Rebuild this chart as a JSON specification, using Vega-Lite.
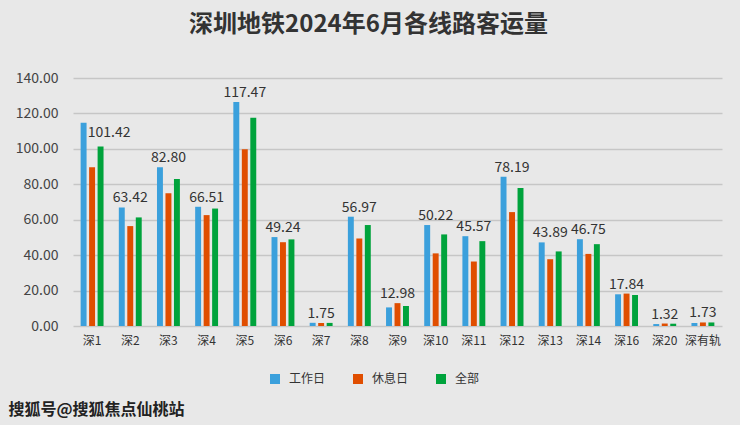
{
  "$schema": "https://vega.github.io/schema/vega-lite/v6.json",
  "width": 649,
  "height": 248,
  "autosize": {"type": "none"},
  "padding": {"left": 73, "top": 78, "right": 18, "bottom": 99},
  "background": "#e8e8e8",
  "view": {"stroke": null},
  "config": {
    "font": "Noto Sans CJK SC",
    "text": {"font": "Noto Sans CJK SC"}
  },
  "title": {
    "text": "深圳地铁2024年6月各线路客运量",
    "fontSize": 24,
    "fontWeight": "bold",
    "color": "#333333",
    "anchor": "middle",
    "dx": -29,
    "offset": 34
  },
  "data": {
    "values": [
      {"line": "深1", "type": "工作日", "value": 114.8},
      {"line": "深1", "type": "休息日", "value": 89.6},
      {"line": "深1", "type": "全部", "value": 101.4, "label": "101.42"},
      {"line": "深2", "type": "工作日", "value": 66.9},
      {"line": "深2", "type": "休息日", "value": 56.4},
      {"line": "深2", "type": "全部", "value": 61.3, "label": "63.42"},
      {"line": "深3", "type": "工作日", "value": 89.6},
      {"line": "深3", "type": "休息日", "value": 74.9},
      {"line": "深3", "type": "全部", "value": 83.0, "label": "82.80"},
      {"line": "深4", "type": "工作日", "value": 67.3},
      {"line": "深4", "type": "休息日", "value": 62.6},
      {"line": "深4", "type": "全部", "value": 66.3, "label": "66.51"},
      {"line": "深5", "type": "工作日", "value": 126.4},
      {"line": "深5", "type": "休息日", "value": 99.8},
      {"line": "深5", "type": "全部", "value": 117.5, "label": "117.47"},
      {"line": "深6", "type": "工作日", "value": 50.2},
      {"line": "深6", "type": "休息日", "value": 47.3},
      {"line": "深6", "type": "全部", "value": 48.9, "label": "49.24"},
      {"line": "深7", "type": "工作日", "value": 1.8},
      {"line": "深7", "type": "休息日", "value": 1.7},
      {"line": "深7", "type": "全部", "value": 1.75, "label": "1.75"},
      {"line": "深8", "type": "工作日", "value": 61.7},
      {"line": "深8", "type": "休息日", "value": 49.4},
      {"line": "深8", "type": "全部", "value": 57.0, "label": "56.97"},
      {"line": "深9", "type": "工作日", "value": 10.5},
      {"line": "深9", "type": "休息日", "value": 12.9},
      {"line": "深9", "type": "全部", "value": 11.3, "label": "12.98"},
      {"line": "深10", "type": "工作日", "value": 57.0},
      {"line": "深10", "type": "休息日", "value": 41.0},
      {"line": "深10", "type": "全部", "value": 51.7, "label": "50.22"},
      {"line": "深11", "type": "工作日", "value": 50.7},
      {"line": "深11", "type": "休息日", "value": 36.4},
      {"line": "深11", "type": "全部", "value": 47.9, "label": "45.57"},
      {"line": "深12", "type": "工作日", "value": 84.3},
      {"line": "深12", "type": "休息日", "value": 64.3},
      {"line": "深12", "type": "全部", "value": 77.9, "label": "78.19"},
      {"line": "深13", "type": "工作日", "value": 47.2},
      {"line": "深13", "type": "休息日", "value": 37.7},
      {"line": "深13", "type": "全部", "value": 42.1, "label": "43.89"},
      {"line": "深14", "type": "工作日", "value": 49.0},
      {"line": "深14", "type": "休息日", "value": 40.7},
      {"line": "深14", "type": "全部", "value": 46.2, "label": "46.75"},
      {"line": "深16", "type": "工作日", "value": 17.9},
      {"line": "深16", "type": "休息日", "value": 18.3},
      {"line": "深16", "type": "全部", "value": 17.5, "label": "17.84"},
      {"line": "深20", "type": "工作日", "value": 1.1},
      {"line": "深20", "type": "休息日", "value": 1.4},
      {"line": "深20", "type": "全部", "value": 1.3, "label": "1.32"},
      {"line": "深有轨", "type": "工作日", "value": 1.7},
      {"line": "深有轨", "type": "休息日", "value": 2.0},
      {"line": "深有轨", "type": "全部", "value": 2.0, "label": "1.73"}
    ]
  },
  "encoding": {
    "x": {
      "field": "line",
      "type": "nominal",
      "sort": null,
      "scale": {"paddingInner": 0.4, "paddingOuter": 0.2},
      "axis": {
        "title": "搜狐号@搜狐焦点仙桃站",
        "titleX": -65,
        "titleY": 83,
        "titleAlign": "left",
        "titleBaseline": "middle",
        "titleAnchor": null,
        "titleFontSize": 16,
        "titleFontWeight": "bold",
        "titleColor": "#222222",
        "labelAngle": 0,
        "labelFontSize": 12,
        "labelColor": "#333333",
        "labelPadding": 9,
        "ticks": false,
        "domain": false
      }
    },
    "y": {
      "field": "value",
      "type": "quantitative",
      "scale": {"domain": [0, 140], "nice": false},
      "axis": {
        "title": null,
        "values": [0, 20, 40, 60, 80, 100, 120, 140],
        "format": ".2f",
        "labelFontSize": 14,
        "labelColor": "#444444",
        "labelPadding": 15,
        "ticks": false,
        "domain": false,
        "gridColor": "#c6c6c6",
        "gridWidth": 1.5
      }
    }
  },
  "layer": [
    {
      "mark": {"type": "bar"},
      "encoding": {
        "xOffset": {
          "field": "type",
          "type": "nominal",
          "sort": ["工作日", "休息日", "全部"],
          "scale": {"paddingInner": 0.3}
        },
        "color": {
          "field": "type",
          "type": "nominal",
          "sort": ["工作日", "休息日", "全部"],
          "scale": {
            "domain": ["工作日", "休息日", "全部"],
            "range": ["#3ba0dc", "#e04e00", "#00a33c"]
          },
          "legend": {
            "title": null,
            "orient": "none",
            "direction": "horizontal",
            "legendX": 196,
            "legendY": 295,
            "symbolType": "square",
            "symbolSize": 100,
            "symbolStrokeWidth": 0,
            "labelFontSize": 12,
            "labelColor": "#333333",
            "labelOffset": 8,
            "columnPadding": 26
          }
        }
      }
    },
    {
      "transform": [
        {"joinaggregate": [{"op": "max", "field": "value", "as": "top"}], "groupby": ["line"]},
        {"filter": "datum.type == '全部' && datum.line != '深1'"}
      ],
      "mark": {"type": "text", "baseline": "alphabetic", "dy": -5, "fontSize": 14, "color": "#333333"},
      "encoding": {
        "y": {"field": "top", "type": "quantitative"},
        "text": {"field": "label", "type": "nominal"}
      }
    },
    {
      "transform": [
        {"filter": "datum.type == '全部' && datum.line == '深1'"}
      ],
      "mark": {"type": "text", "baseline": "alphabetic", "dy": -9, "dx": 17, "fontSize": 14, "color": "#333333"},
      "encoding": {
        "text": {"field": "label", "type": "nominal"}
      }
    }
  ]
}
